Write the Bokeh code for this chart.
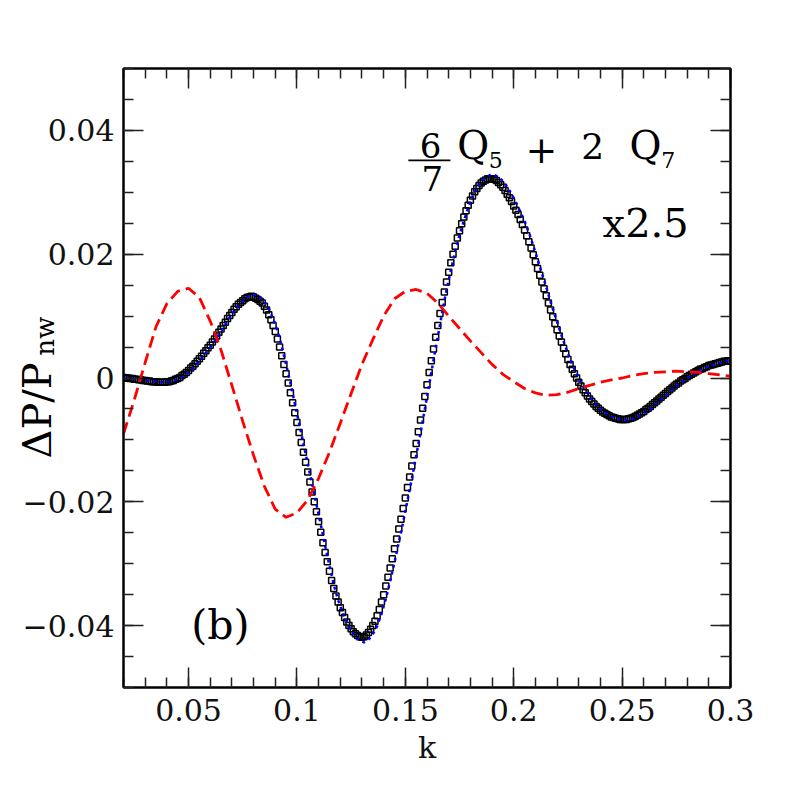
import numpy as np
from bokeh.plotting import figure
from bokeh.models import (Range1d, LinearAxis, FixedTicker, Label, BoxAnnotation,
                          CustomJSTickFormatter)
from bokeh.embed import file_html
from bokeh.resources import INLINE

FONT = "DejaVu Serif"

# ---------------- data ----------------
# black open squares: k = 0.020 ... 0.300 step 0.001
k_black = np.round(np.linspace(0.020, 0.300, 281), 3)
dp_black = [
    0.0001, 0.0000, 0.0000, -0.0001, -0.0001, -0.0002, -0.0002, -0.0003, -0.0003, -0.0004,
    -0.0004, -0.0005, -0.0005, -0.0006, -0.0006, -0.0006, -0.0007, -0.0007, -0.0007, -0.0007,
    -0.0006, -0.0006, -0.0005, -0.0004, -0.0002, -0.0001, 0.0001, 0.0004, 0.0006, 0.0009,
    0.0012, 0.0016, 0.0019, 0.0023, 0.0027, 0.0031, 0.0035, 0.0040, 0.0044, 0.0049,
    0.0053, 0.0058, 0.0063, 0.0068, 0.0074, 0.0079, 0.0085, 0.0090, 0.0096, 0.0101,
    0.0106, 0.0111, 0.0115, 0.0119, 0.0122, 0.0125, 0.0128, 0.0130, 0.0131, 0.0132,
    0.0131, 0.0129, 0.0127, 0.0124, 0.0121, 0.0116, 0.0110, 0.0102, 0.0094, 0.0085,
    0.0075, 0.0063, 0.0050, 0.0036, 0.0022, 0.0007, -0.0008, -0.0024, -0.0040, -0.0056,
    -0.0072, -0.0088, -0.0104, -0.0120, -0.0136, -0.0152, -0.0168, -0.0184, -0.0200, -0.0216,
    -0.0232, -0.0249, -0.0266, -0.0282, -0.0297, -0.0312, -0.0327, -0.0340, -0.0352, -0.0362,
    -0.0371, -0.0379, -0.0387, -0.0394, -0.0400, -0.0405, -0.0410, -0.0413, -0.0416, -0.0418,
    -0.0419, -0.0418, -0.0415, -0.0411, -0.0406, -0.0400, -0.0393, -0.0384, -0.0374, -0.0362,
    -0.0350, -0.0336, -0.0322, -0.0307, -0.0292, -0.0276, -0.0260, -0.0244, -0.0228, -0.0211,
    -0.0194, -0.0177, -0.0160, -0.0142, -0.0124, -0.0106, -0.0087, -0.0068, -0.0049, -0.0030,
    -0.0011, 0.0009, 0.0028, 0.0047, 0.0066, 0.0085, 0.0104, 0.0122, 0.0139, 0.0155,
    0.0171, 0.0186, 0.0200, 0.0213, 0.0226, 0.0238, 0.0249, 0.0260, 0.0270, 0.0279,
    0.0287, 0.0294, 0.0301, 0.0306, 0.0311, 0.0315, 0.0318, 0.0320, 0.0322, 0.0322,
    0.0322, 0.0321, 0.0319, 0.0316, 0.0312, 0.0308, 0.0303, 0.0297, 0.0291, 0.0285,
    0.0278, 0.0271, 0.0264, 0.0256, 0.0248, 0.0239, 0.0230, 0.0220, 0.0210, 0.0199,
    0.0188, 0.0177, 0.0166, 0.0155, 0.0144, 0.0133, 0.0121, 0.0110, 0.0099, 0.0088,
    0.0078, 0.0068, 0.0058, 0.0048, 0.0039, 0.0030, 0.0022, 0.0014, 0.0007, 0.0000,
    -0.0007, -0.0013, -0.0019, -0.0024, -0.0029, -0.0034, -0.0038, -0.0042, -0.0046, -0.0049,
    -0.0052, -0.0055, -0.0057, -0.0059, -0.0061, -0.0063, -0.0064, -0.0065, -0.0066, -0.0067,
    -0.0067, -0.0067, -0.0067, -0.0066, -0.0065, -0.0064, -0.0062, -0.0060, -0.0058, -0.0056,
    -0.0054, -0.0051, -0.0049, -0.0046, -0.0043, -0.0040, -0.0037, -0.0034, -0.0031, -0.0028,
    -0.0025, -0.0022, -0.0019, -0.0016, -0.0013, -0.0010, -0.0008, -0.0005, -0.0003, -0.0001,
    0.0002, 0.0004, 0.0006, 0.0008, 0.0010, 0.0012, 0.0014, 0.0015, 0.0017, 0.0018,
    0.0020, 0.0021, 0.0022, 0.0023, 0.0024, 0.0025, 0.0026, 0.0027, 0.0027, 0.0028,
    0.0028,
]

# blue dotted curve: k = 0.021 ... 0.299 step 0.002
k_blue = np.round(np.linspace(0.021, 0.299, 140), 4)
dp_blue = [
    0.0001, 0.0000, -0.0001, -0.0002, -0.0003, -0.0004, -0.0005, -0.0006, -0.0007, -0.0007,
    -0.0006, -0.0005, -0.0002, 0.0001, 0.0006, 0.0012, 0.0019, 0.0028, 0.0036, 0.0045,
    0.0054, 0.0064, 0.0075, 0.0087, 0.0098, 0.0108, 0.0117, 0.0124, 0.0131, 0.0134,
    0.0134, 0.0130, 0.0123, 0.0112, 0.0096, 0.0077, 0.0051, 0.0022, -0.0008, -0.0041,
    -0.0073, -0.0106, -0.0139, -0.0171, -0.0204, -0.0237, -0.0271, -0.0303, -0.0334, -0.0359,
    -0.0378, -0.0395, -0.0408, -0.0418, -0.0424, -0.0427, -0.0423, -0.0414, -0.0401, -0.0381,
    -0.0357, -0.0328, -0.0298, -0.0265, -0.0233, -0.0198, -0.0163, -0.0126, -0.0089, -0.0050,
    -0.0011, 0.0029, 0.0067, 0.0106, 0.0142, 0.0174, 0.0204, 0.0231, 0.0254, 0.0275,
    0.0293, 0.0307, 0.0317, 0.0324, 0.0328, 0.0328, 0.0325, 0.0318, 0.0309, 0.0297,
    0.0284, 0.0269, 0.0253, 0.0235, 0.0214, 0.0192, 0.0169, 0.0147, 0.0123, 0.0101,
    0.0080, 0.0059, 0.0040, 0.0022, 0.0007, -0.0007, -0.0019, -0.0030, -0.0039, -0.0047,
    -0.0053, -0.0058, -0.0062, -0.0065, -0.0067, -0.0068, -0.0068, -0.0066, -0.0063, -0.0059,
    -0.0055, -0.0050, -0.0044, -0.0038, -0.0032, -0.0026, -0.0019, -0.0013, -0.0008, -0.0003,
    0.0002, 0.0006, 0.0010, 0.0014, 0.0017, 0.0020, 0.0022, 0.0024, 0.0027, 0.0028,
]

# red dashed curve: k = 0.020 ... 0.300 step 0.005
k_red = np.round(np.linspace(0.020, 0.300, 57), 3)
dp_red = [
    -0.0090, -0.0035, 0.0025, 0.0083, 0.0120, 0.0140, 0.0145, 0.0130, 0.0092, 0.0045,
    -0.0012, -0.0070, -0.0125, -0.0175, -0.0212, -0.0225, -0.0218, -0.0197, -0.0162, -0.0120,
    -0.0073, -0.0025, 0.0022, 0.0062, 0.0100, 0.0128, 0.0140, 0.0143, 0.0137, 0.0121,
    0.0100, 0.0080, 0.0060, 0.0041, 0.0022, 0.0006, -0.0006, -0.0017, -0.0024, -0.0028,
    -0.0027, -0.0023, -0.0017, -0.0012, -0.0007, -0.0003, 0.0000, 0.0004, 0.0007, 0.0009,
    0.0010, 0.0011, 0.0010, 0.0009, 0.0007, 0.0005, 0.0003,
]

x_ticks = [0.05, 0.1, 0.15, 0.2, 0.25, 0.3]
x_tick_labels = ["0.05", "0.1", "0.15", "0.2", "0.25", "0.3"]
x_minor = [round(0.02 + 0.01 * i, 2) for i in range(29)]
y_ticks = [-0.04, -0.02, 0.0, 0.02, 0.04]
y_tick_labels = ["\u22120.04", "\u22120.02", "0", "0.02", "0.04"]
y_minor = [round(-0.05 + 0.005 * i, 3) for i in range(21)]

# ---------------- figure ----------------
p = figure(width=797, height=797,
           x_range=Range1d(0.02, 0.3), y_range=Range1d(-0.05, 0.05),
           output_backend="svg", toolbar_location=None,
           min_border_left=123, min_border_right=67,
           min_border_top=68, min_border_bottom=110)
p.grid.visible = False
p.outline_line_color = "black"
p.outline_line_width = 2
p.background_fill_color = "white"
p.border_fill_color = "white"


def style_axis(ax, ticks, minor, labels):
    ax.ticker = FixedTicker(ticks=ticks, minor_ticks=minor)
    ax.major_tick_in = 20
    ax.major_tick_out = 0
    ax.minor_tick_in = 10
    ax.minor_tick_out = 0
    ax.axis_line_color = "black"
    ax.axis_line_width = 2
    ax.major_tick_line_color = "#222222"
    ax.minor_tick_line_color = "#222222"
    ax.major_tick_line_width = 1.5
    ax.minor_tick_line_width = 1.5
    ax.major_label_text_font = FONT
    ax.major_label_text_font_size = "30px"
    ax.major_label_text_color = "#111111"
    if labels is None:
        ax.formatter = CustomJSTickFormatter(code="return '';")
        ax.major_label_standoff = 0
    else:
        ax.major_label_overrides = dict(zip(ticks, labels))


xb = p.below[0]
style_axis(xb, x_ticks, x_minor, x_tick_labels)
xb.major_label_standoff = 11
xb.axis_label = "k"
xb.axis_label_text_font = FONT
xb.axis_label_text_font_style = "normal"
xb.axis_label_text_font_size = "30px"
xb.axis_label_text_color = "#111111"
xb.axis_label_standoff = 6

yl = p.left[0]
style_axis(yl, y_ticks, y_minor, y_tick_labels)
yl.major_label_standoff = 9

xt = LinearAxis()
style_axis(xt, x_ticks, x_minor, None)
p.add_layout(xt, "above")
yr = LinearAxis()
style_axis(yr, y_ticks, y_minor, None)
p.add_layout(yr, "right")

# ---------------- curves ----------------
p.scatter(k_black, dp_black, marker="square", size=6, fill_color=None,
          line_color="black", line_width=1.5)
p.line(k_blue, dp_blue, line_color="#0000ff", line_width=2.5, line_dash="3 4")
p.line(k_red, dp_red, line_color="#ff0000", line_width=2.8, line_dash="12 6")

# ---------------- annotations ----------------
def lab(x, y, text, size, align="left", baseline="alphabetic", angle=0.0, place=None):
    lb = Label(x=x, y=y, text=text, text_font=FONT, text_font_size=size,
               text_align=align, text_baseline=baseline, angle=angle,
               text_color="#000000")
    if place is None:
        p.add_layout(lb)
    else:
        p.add_layout(lb, place)


lab(0.1616, 0.0376, "6", "34px", "center", "middle")
lab(0.1625, 0.0322, "7", "34px", "center", "middle")
p.add_layout(BoxAnnotation(left=0.1514, right=0.1708, bottom=0.0350, top=0.0353,
                           fill_color="#000000", fill_alpha=1.0, line_color=None))
lab(0.1740, 0.0375, "Q", "39px")
lab(0.1885, 0.0352, "5", "22px")
lab(0.2128, 0.0369, "+", "38px", "center", "middle")
lab(0.2312, 0.0375, "2", "36px")
lab(0.2534, 0.0375, "Q", "39px")
lab(0.2680, 0.0352, "7", "22px")
lab(0.2410, 0.0251, "x2.5", "40px")
lab(0.0512, -0.0399, "(b)", "41px")

# y-axis label  ΔP/P_nw  (rotated, outside the frame).  Placed in side panels that
# have spare room so that the frame does not move; positions are in data units.
lab(-0.0201, -0.0130, "\u0394P/P", "40px", baseline="middle", angle=np.pi / 2, place="right")
lab(-0.0164, 0.0036, "nw", "26px", baseline="middle", angle=np.pi / 2, place="above")

open("out.html", "w").write(file_html(p, INLINE))
